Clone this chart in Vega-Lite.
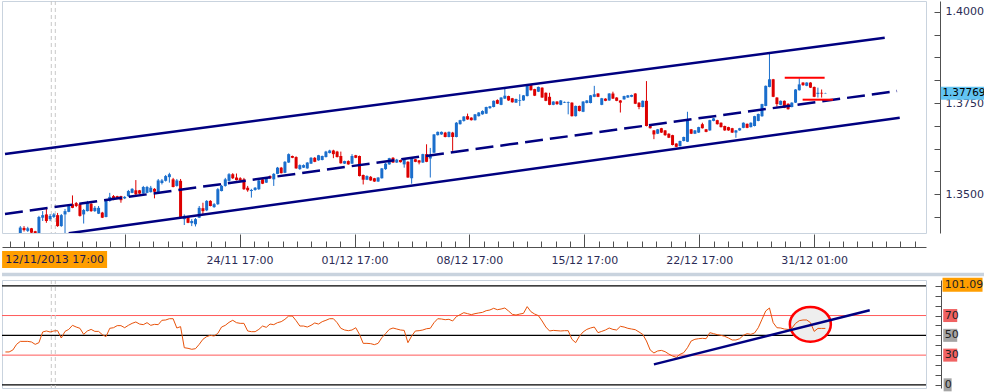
{
"$schema": "https://vega.github.io/schema/vega-lite/v6.json",
"padding": 0,
"background": "white",
"spacing": 47,
"bounds": "flush",
"config": {"view": {"stroke": "#C9D3DE"}, "axis": {"grid": false, "title": null, "labelFont": "DejaVu Sans", "labelFontSize": 11, "labelColor": "#2B2B55", "domainColor": "#505050", "tickColor": "#505050", "labelOverlap": false, "labelFlush": false, "labelBound": false}},
"datasets": {
"candles": [
{"i":1,"o":1.3393,"h":1.3413,"l":1.3391,"c":1.3409},{"i":2,"o":1.3408,"h":1.3413,"l":1.3398,"c":1.3402},{"i":3,"o":1.3400,"h":1.3411,"l":1.3397,"c":1.3407},{"i":4,"o":1.3407,"h":1.3408,"l":1.3394,"c":1.3395},{"i":5,"o":1.3399,"h":1.3400,"l":1.3393,"c":1.3394},
{"i":6,"o":1.3393,"h":1.3441,"l":1.3391,"c":1.3438},{"i":7,"o":1.3436,"h":1.3454,"l":1.3427,"c":1.3443},{"i":8,"o":1.3445,"h":1.3460,"l":1.3422,"c":1.3427},{"i":9,"o":1.3432,"h":1.3446,"l":1.3427,"c":1.3441},{"i":10,"o":1.3438,"h":1.3449,"l":1.3435,"c":1.3445},
{"i":11,"o":1.3443,"h":1.3449,"l":1.3411,"c":1.3413},{"i":12,"o":1.3413,"h":1.3446,"l":1.3411,"c":1.3443},{"i":13,"o":1.3445,"h":1.3460,"l":1.3392,"c":1.3454},{"i":14,"o":1.3452,"h":1.3471,"l":1.3451,"c":1.3468},{"i":15,"o":1.3473,"h":1.3497,"l":1.3462,"c":1.3463},
{"i":16,"o":1.3476,"h":1.3479,"l":1.3465,"c":1.3468},{"i":17,"o":1.3473,"h":1.3476,"l":1.3439,"c":1.3441},{"i":18,"o":1.3445,"h":1.3460,"l":1.3420,"c":1.3457},{"i":19,"o":1.3454,"h":1.3482,"l":1.3453,"c":1.3477},{"i":20,"o":1.3474,"h":1.3476,"l":1.3452,"c":1.3454},
{"i":21,"o":1.3454,"h":1.3468,"l":1.3452,"c":1.3463},{"i":22,"o":1.3447,"h":1.3468,"l":1.3446,"c":1.3463},{"i":23,"o":1.3450,"h":1.3452,"l":1.3435,"c":1.3436},{"i":24,"o":1.3438,"h":1.3484,"l":1.3437,"c":1.3482},{"i":25,"o":1.3482,"h":1.3504,"l":1.3480,"c":1.3493},
{"i":26,"o":1.3495,"h":1.3498,"l":1.3484,"c":1.3486},{"i":27,"o":1.3495,"h":1.3496,"l":1.3487,"c":1.3489},{"i":28,"o":1.3495,"h":1.3496,"l":1.3477,"c":1.3484},{"i":29,"o":1.3489,"h":1.3495,"l":1.3487,"c":1.3493},{"i":30,"o":1.3495,"h":1.3512,"l":1.3493,"c":1.3509},
{"i":31,"o":1.3504,"h":1.3517,"l":1.3503,"c":1.3515},{"i":32,"o":1.3511,"h":1.3539,"l":1.3498,"c":1.3500},{"i":33,"o":1.3511,"h":1.3512,"l":1.3501,"c":1.3502},{"i":34,"o":1.3502,"h":1.3523,"l":1.3501,"c":1.3520},{"i":35,"o":1.3504,"h":1.3523,"l":1.3503,"c":1.3520},
{"i":36,"o":1.3506,"h":1.3523,"l":1.3505,"c":1.3518},{"i":37,"o":1.3515,"h":1.3517,"l":1.3489,"c":1.3507},{"i":38,"o":1.3504,"h":1.3542,"l":1.3503,"c":1.3538},{"i":39,"o":1.3531,"h":1.3542,"l":1.3527,"c":1.3538},{"i":40,"o":1.3537,"h":1.3553,"l":1.3535,"c":1.3550},
{"i":41,"o":1.3547,"h":1.3559,"l":1.3532,"c":1.3555},{"i":42,"o":1.3541,"h":1.3545,"l":1.3519,"c":1.3520},{"i":43,"o":1.3523,"h":1.3542,"l":1.3521,"c":1.3538},{"i":44,"o":1.3537,"h":1.3542,"l":1.3435,"c":1.3436},{"i":45,"o":1.3432,"h":1.3445,"l":1.3416,"c":1.3441},
{"i":46,"o":1.3438,"h":1.3441,"l":1.3421,"c":1.3422},{"i":47,"o":1.3421,"h":1.3432,"l":1.3413,"c":1.3427},{"i":48,"o":1.3418,"h":1.3435,"l":1.3412,"c":1.3432},{"i":49,"o":1.3436,"h":1.3468,"l":1.3435,"c":1.3463},{"i":50,"o":1.3462,"h":1.3477,"l":1.3445,"c":1.3454},
{"i":51,"o":1.3456,"h":1.3484,"l":1.3454,"c":1.3482},{"i":52,"o":1.3482,"h":1.3484,"l":1.3467,"c":1.3468},{"i":53,"o":1.3465,"h":1.3476,"l":1.3463,"c":1.3473},{"i":54,"o":1.3473,"h":1.3517,"l":1.3471,"c":1.3514},{"i":55,"o":1.3509,"h":1.3526,"l":1.3508,"c":1.3523},
{"i":56,"o":1.3523,"h":1.3545,"l":1.3521,"c":1.3541},{"i":57,"o":1.3537,"h":1.3558,"l":1.3535,"c":1.3555},{"i":58,"o":1.3555,"h":1.3558,"l":1.3542,"c":1.3544},{"i":59,"o":1.3546,"h":1.3557,"l":1.3538,"c":1.3539},{"i":60,"o":1.3544,"h":1.3547,"l":1.3537,"c":1.3538},
{"i":61,"o":1.3541,"h":1.3545,"l":1.3512,"c":1.3514},{"i":62,"o":1.3518,"h":1.3523,"l":1.3507,"c":1.3511},{"i":63,"o":1.3509,"h":1.3515,"l":1.3491,"c":1.3512},{"i":64,"o":1.3512,"h":1.3520,"l":1.3510,"c":1.3518},{"i":65,"o":1.3514,"h":1.3541,"l":1.3512,"c":1.3538},
{"i":66,"o":1.3541,"h":1.3542,"l":1.3528,"c":1.3529},{"i":67,"o":1.3532,"h":1.3547,"l":1.3531,"c":1.3546},{"i":68,"o":1.3550,"h":1.3552,"l":1.3542,"c":1.3544},{"i":69,"o":1.3541,"h":1.3558,"l":1.3523,"c":1.3556},{"i":70,"o":1.3556,"h":1.3575,"l":1.3555,"c":1.3573},
{"i":71,"o":1.3573,"h":1.3575,"l":1.3557,"c":1.3558},{"i":72,"o":1.3559,"h":1.3591,"l":1.3558,"c":1.3589},{"i":73,"o":1.3587,"h":1.3612,"l":1.3586,"c":1.3610},{"i":74,"o":1.3605,"h":1.3606,"l":1.3599,"c":1.3600},{"i":75,"o":1.3602,"h":1.3604,"l":1.3570,"c":1.3571},
{"i":76,"o":1.3569,"h":1.3582,"l":1.3567,"c":1.3580},{"i":77,"o":1.3573,"h":1.3582,"l":1.3572,"c":1.3580},{"i":78,"o":1.3571,"h":1.3588,"l":1.3570,"c":1.3587},{"i":79,"o":1.3584,"h":1.3602,"l":1.3583,"c":1.3600},{"i":80,"o":1.3600,"h":1.3602,"l":1.3588,"c":1.3589},
{"i":81,"o":1.3593,"h":1.3608,"l":1.3592,"c":1.3607},{"i":82,"o":1.3594,"h":1.3606,"l":1.3593,"c":1.3605},{"i":83,"o":1.3602,"h":1.3619,"l":1.3601,"c":1.3617},{"i":84,"o":1.3613,"h":1.3622,"l":1.3612,"c":1.3620},{"i":85,"o":1.3620,"h":1.3622,"l":1.3599,"c":1.3610},
{"i":86,"o":1.3617,"h":1.3619,"l":1.3601,"c":1.3602},{"i":87,"o":1.3605,"h":1.3617,"l":1.3584,"c":1.3585},{"i":88,"o":1.3584,"h":1.3592,"l":1.3583,"c":1.3591},{"i":89,"o":1.3591,"h":1.3593,"l":1.3581,"c":1.3582},{"i":90,"o":1.3584,"h":1.3610,"l":1.3583,"c":1.3605},
{"i":91,"o":1.3607,"h":1.3608,"l":1.3599,"c":1.3600},{"i":92,"o":1.3605,"h":1.3606,"l":1.3549,"c":1.3550},{"i":93,"o":1.3553,"h":1.3554,"l":1.3527,"c":1.3540},{"i":94,"o":1.3540,"h":1.3552,"l":1.3539,"c":1.3550},{"i":95,"o":1.3548,"h":1.3550,"l":1.3537,"c":1.3538},
{"i":96,"o":1.3544,"h":1.3545,"l":1.3534,"c":1.3535},{"i":97,"o":1.3535,"h":1.3547,"l":1.3534,"c":1.3546},{"i":98,"o":1.3544,"h":1.3572,"l":1.3543,"c":1.3571},{"i":99,"o":1.3569,"h":1.3586,"l":1.3567,"c":1.3584},{"i":100,"o":1.3582,"h":1.3600,"l":1.3581,"c":1.3599},
{"i":101,"o":1.3600,"h":1.3602,"l":1.3586,"c":1.3587},{"i":102,"o":1.3587,"h":1.3597,"l":1.3586,"c":1.3595},{"i":103,"o":1.3594,"h":1.3595,"l":1.3587,"c":1.3588},{"i":104,"o":1.3582,"h":1.3597,"l":1.3573,"c":1.3596},{"i":105,"o":1.3589,"h":1.3591,"l":1.3545,"c":1.3546},
{"i":106,"o":1.3544,"h":1.3600,"l":1.3529,"c":1.3599},{"i":107,"o":1.3596,"h":1.3597,"l":1.3588,"c":1.3589},{"i":108,"o":1.3593,"h":1.3594,"l":1.3582,"c":1.3587},{"i":109,"o":1.3587,"h":1.3611,"l":1.3586,"c":1.3610},{"i":110,"o":1.3610,"h":1.3637,"l":1.3588,"c":1.3589},
{"i":111,"o":1.3598,"h":1.3627,"l":1.3546,"c":1.3607},{"i":112,"o":1.3614,"h":1.3665,"l":1.3613,"c":1.3664},{"i":113,"o":1.3662,"h":1.3672,"l":1.3661,"c":1.3671},{"i":114,"o":1.3664,"h":1.3672,"l":1.3663,"c":1.3671},{"i":115,"o":1.3669,"h":1.3671,"l":1.3656,"c":1.3657},
{"i":116,"o":1.3657,"h":1.3672,"l":1.3656,"c":1.3671},{"i":117,"o":1.3669,"h":1.3671,"l":1.3619,"c":1.3657},{"i":118,"o":1.3657,"h":1.3698,"l":1.3656,"c":1.3696},{"i":119,"o":1.3692,"h":1.3704,"l":1.3691,"c":1.3703},{"i":120,"o":1.3701,"h":1.3714,"l":1.3699,"c":1.3713},
{"i":121,"o":1.3714,"h":1.3721,"l":1.3704,"c":1.3705},{"i":122,"o":1.3710,"h":1.3711,"l":1.3702,"c":1.3703},{"i":123,"o":1.3703,"h":1.3720,"l":1.3702,"c":1.3719},{"i":124,"o":1.3714,"h":1.3725,"l":1.3713,"c":1.3724},{"i":125,"o":1.3719,"h":1.3730,"l":1.3718,"c":1.3728},
{"i":126,"o":1.3721,"h":1.3740,"l":1.3720,"c":1.3739},{"i":127,"o":1.3736,"h":1.3742,"l":1.3734,"c":1.3741},{"i":128,"o":1.3739,"h":1.3757,"l":1.3738,"c":1.3756},{"i":129,"o":1.3758,"h":1.3760,"l":1.3747,"c":1.3748},{"i":130,"o":1.3745,"h":1.3766,"l":1.3744,"c":1.3765},
{"i":131,"o":1.3762,"h":1.3790,"l":1.3761,"c":1.3770},{"i":132,"o":1.3769,"h":1.3770,"l":1.3756,"c":1.3757},{"i":133,"o":1.3763,"h":1.3764,"l":1.3751,"c":1.3752},{"i":134,"o":1.3751,"h":1.3762,"l":1.3750,"c":1.3761},{"i":135,"o":1.3756,"h":1.3774,"l":1.3742,"c":1.3758},
{"i":136,"o":1.3757,"h":1.3772,"l":1.3756,"c":1.3771},{"i":137,"o":1.3769,"h":1.3801,"l":1.3768,"c":1.3799},{"i":138,"o":1.3801,"h":1.3802,"l":1.3784,"c":1.3785},{"i":139,"o":1.3788,"h":1.3789,"l":1.3769,"c":1.3770},{"i":140,"o":1.3781,"h":1.3795,"l":1.3780,"c":1.3794},
{"i":141,"o":1.3792,"h":1.3793,"l":1.3764,"c":1.3765},{"i":142,"o":1.3778,"h":1.3779,"l":1.3755,"c":1.3756},{"i":143,"o":1.3767,"h":1.3778,"l":1.3744,"c":1.3745},{"i":144,"o":1.3745,"h":1.3755,"l":1.3744,"c":1.3754},{"i":145,"o":1.3754,"h":1.3755,"l":1.3745,"c":1.3747},
{"i":146,"o":1.3745,"h":1.3758,"l":1.3744,"c":1.3757},{"i":147,"o":1.3751,"h":1.3754,"l":1.3750,"c":1.3753},{"i":148,"o":1.3750,"h":1.3754,"l":1.3719,"c":1.3752},{"i":149,"o":1.3751,"h":1.3752,"l":1.3713,"c":1.3714},{"i":150,"o":1.3714,"h":1.3743,"l":1.3713,"c":1.3742},
{"i":151,"o":1.3742,"h":1.3743,"l":1.3727,"c":1.3728},{"i":152,"o":1.3726,"h":1.3755,"l":1.3725,"c":1.3754},{"i":153,"o":1.3750,"h":1.3758,"l":1.3749,"c":1.3757},{"i":154,"o":1.3750,"h":1.3772,"l":1.3749,"c":1.3771},{"i":155,"o":1.3767,"h":1.3797,"l":1.3766,"c":1.3774},
{"i":156,"o":1.3776,"h":1.3777,"l":1.3766,"c":1.3767},{"i":157,"o":1.3745,"h":1.3764,"l":1.3744,"c":1.3763},{"i":158,"o":1.3762,"h":1.3763,"l":1.3755,"c":1.3756},{"i":159,"o":1.3757,"h":1.3777,"l":1.3756,"c":1.3776},{"i":160,"o":1.3776,"h":1.3781,"l":1.3761,"c":1.3762},
{"i":161,"o":1.3765,"h":1.3766,"l":1.3755,"c":1.3756},{"i":162,"o":1.3757,"h":1.3758,"l":1.3724,"c":1.3751},{"i":163,"o":1.3760,"h":1.3770,"l":1.3759,"c":1.3769},{"i":164,"o":1.3765,"h":1.3772,"l":1.3764,"c":1.3771},{"i":165,"o":1.3767,"h":1.3773,"l":1.3766,"c":1.3772},
{"i":166,"o":1.3776,"h":1.3777,"l":1.3747,"c":1.3748},{"i":167,"o":1.3751,"h":1.3752,"l":1.3733,"c":1.3739},{"i":168,"o":1.3739,"h":1.3757,"l":1.3738,"c":1.3756},{"i":169,"o":1.3756,"h":1.3810,"l":1.3686,"c":1.3687},{"i":170,"o":1.3687,"h":1.3688,"l":1.3680,"c":1.3681},
{"i":171,"o":1.3675,"h":1.3676,"l":1.3651,"c":1.3664},{"i":172,"o":1.3666,"h":1.3679,"l":1.3665,"c":1.3678},{"i":173,"o":1.3681,"h":1.3682,"l":1.3668,"c":1.3669},{"i":174,"o":1.3675,"h":1.3676,"l":1.3660,"c":1.3662},{"i":175,"o":1.3666,"h":1.3667,"l":1.3654,"c":1.3655},
{"i":176,"o":1.3662,"h":1.3663,"l":1.3634,"c":1.3635},{"i":177,"o":1.3639,"h":1.3640,"l":1.3629,"c":1.3630},{"i":178,"o":1.3632,"h":1.3647,"l":1.3631,"c":1.3646},{"i":179,"o":1.3646,"h":1.3658,"l":1.3645,"c":1.3657},{"i":180,"o":1.3644,"h":1.3726,"l":1.3643,"c":1.3703},
{"i":181,"o":1.3678,"h":1.3679,"l":1.3665,"c":1.3666},{"i":182,"o":1.3666,"h":1.3676,"l":1.3665,"c":1.3675},{"i":183,"o":1.3669,"h":1.3685,"l":1.3668,"c":1.3684},{"i":184,"o":1.3692,"h":1.3696,"l":1.3680,"c":1.3681},{"i":185,"o":1.3678,"h":1.3679,"l":1.3670,"c":1.3671},
{"i":186,"o":1.3675,"h":1.3704,"l":1.3674,"c":1.3703},{"i":187,"o":1.3701,"h":1.3709,"l":1.3700,"c":1.3708},{"i":188,"o":1.3703,"h":1.3704,"l":1.3691,"c":1.3692},{"i":189,"o":1.3696,"h":1.3697,"l":1.3683,"c":1.3684},{"i":190,"o":1.3687,"h":1.3688,"l":1.3674,"c":1.3675},
{"i":191,"o":1.3684,"h":1.3685,"l":1.3674,"c":1.3675},{"i":192,"o":1.3681,"h":1.3682,"l":1.3668,"c":1.3669},{"i":193,"o":1.3669,"h":1.3676,"l":1.3655,"c":1.3675},{"i":194,"o":1.3675,"h":1.3682,"l":1.3674,"c":1.3681},{"i":195,"o":1.3682,"h":1.3697,"l":1.3681,"c":1.3696},
{"i":196,"o":1.3693,"h":1.3694,"l":1.3681,"c":1.3682},{"i":197,"o":1.3684,"h":1.3697,"l":1.3683,"c":1.3696},{"i":198,"o":1.3687,"h":1.3715,"l":1.3686,"c":1.3714},{"i":199,"o":1.3701,"h":1.3721,"l":1.3700,"c":1.3720},{"i":200,"o":1.3714,"h":1.3748,"l":1.3712,"c":1.3747},
{"i":201,"o":1.3742,"h":1.3798,"l":1.3741,"c":1.3797},{"i":202,"o":1.3794,"h":1.3888,"l":1.3793,"c":1.3815},{"i":203,"o":1.3815,"h":1.3816,"l":1.3766,"c":1.3767},{"i":204,"o":1.3765,"h":1.3766,"l":1.3740,"c":1.3747},{"i":205,"o":1.3745,"h":1.3757,"l":1.3744,"c":1.3756},
{"i":206,"o":1.3756,"h":1.3757,"l":1.3736,"c":1.3737},{"i":207,"o":1.3748,"h":1.3749,"l":1.3732,"c":1.3733},{"i":208,"o":1.3739,"h":1.3752,"l":1.3738,"c":1.3751},{"i":209,"o":1.3751,"h":1.3788,"l":1.3750,"c":1.3787},{"i":210,"o":1.3785,"h":1.3818,"l":1.3784,"c":1.3801},
{"i":211,"o":1.3806,"h":1.3807,"l":1.3797,"c":1.3799},{"i":212,"o":1.3797,"h":1.3807,"l":1.3796,"c":1.3806},{"i":213,"o":1.3806,"h":1.3807,"l":1.3791,"c":1.3792},{"i":214,"o":1.3794,"h":1.3795,"l":1.3766,"c":1.3767},{"i":215,"o":1.3775,"h":1.3792,"l":1.3765,"c":1.3778},
{"i":216,"o":1.3778,"h":1.3787,"l":1.3765,"c":1.3776},{"i":217,"o":1.3776,"h":1.3778,"l":1.3776,"c":1.37769}
],
"rsi": [
{"i":-3,"r":33.2},{"i":-2,"r":33.2},{"i":-1,"r":35.2},{"i":0,"r":40.9},{"i":1,"r":43.9},{"i":2,"r":43.9},{"i":3,"r":43.9},{"i":4,"r":43.3},{"i":5,"r":40.9},{"i":6,"r":42.6},
{"i":7,"r":53.4},{"i":8,"r":54.4},{"i":9,"r":53.4},{"i":10,"r":54.4},{"i":11,"r":54.7},{"i":12,"r":47.3},{"i":13,"r":54},{"i":14,"r":56},{"i":15,"r":60.1},{"i":16,"r":58.4},
{"i":17,"r":57.1},{"i":18,"r":51},{"i":19,"r":54.4},{"i":20,"r":56},{"i":21,"r":54},{"i":22,"r":54},{"i":23,"r":50.7},{"i":24,"r":48.7},{"i":25,"r":57.1},{"i":26,"r":57.7},
{"i":27,"r":59.8},{"i":28,"r":59.8},{"i":29,"r":57.7},{"i":30,"r":60.1},{"i":31,"r":62.1},{"i":32,"r":63.5},{"i":33,"r":61.4},{"i":34,"r":60.8},{"i":35,"r":62.8},{"i":36,"r":60.1},
{"i":37,"r":61.1},{"i":38,"r":60.8},{"i":39,"r":65.2},{"i":40,"r":65.5},{"i":41,"r":66.8},{"i":42,"r":66.8},{"i":43,"r":57.4},{"i":44,"r":58.8},{"i":45,"r":37.5},{"i":46,"r":36.9},
{"i":47,"r":35.9},{"i":48,"r":36.5},{"i":49,"r":40.9},{"i":50,"r":46},{"i":51,"r":48.7},{"i":52,"r":50},{"i":53,"r":49.3},{"i":54,"r":52},{"i":55,"r":58.4},{"i":56,"r":60.1},
{"i":57,"r":63.1},{"i":58,"r":65.2},{"i":59,"r":62.8},{"i":60,"r":62.1},{"i":61,"r":62.1},{"i":62,"r":54.4},{"i":63,"r":53.7},{"i":64,"r":53.7},{"i":65,"r":56},{"i":66,"r":59.4},
{"i":67,"r":58.1},{"i":68,"r":61.4},{"i":69,"r":60.8},{"i":70,"r":62.8},{"i":71,"r":63.8},{"i":72,"r":66.2},{"i":73,"r":69.5},{"i":74,"r":69.5},{"i":75,"r":64.8},{"i":76,"r":59.4},
{"i":77,"r":59.4},{"i":78,"r":58.4},{"i":79,"r":60.1},{"i":80,"r":62.5},{"i":81,"r":61.4},{"i":82,"r":63.8},{"i":83,"r":65.2},{"i":84,"r":66.8},{"i":85,"r":66.8},{"i":86,"r":62.8},
{"i":87,"r":57.1},{"i":88,"r":55.4},{"i":89,"r":54.7},{"i":90,"r":55.4},{"i":91,"r":57.7},{"i":92,"r":51},{"i":93,"r":41.9},{"i":94,"r":41.9},{"i":95,"r":41.6},{"i":96,"r":40.6},
{"i":97,"r":41.9},{"i":98,"r":47.6},{"i":99,"r":51.7},{"i":100,"r":56},{"i":101,"r":57.4},{"i":102,"r":56.4},{"i":103,"r":55.4},{"i":104,"r":55},{"i":105,"r":42.6},{"i":106,"r":49.3},
{"i":107,"r":54.4},{"i":108,"r":54.7},{"i":109,"r":55.4},{"i":110,"r":56.7},{"i":111,"r":57.1},{"i":112,"r":62.8},{"i":113,"r":66.8},{"i":114,"r":66.5},{"i":115,"r":65.8},{"i":116,"r":66.2},
{"i":117,"r":64.5},{"i":118,"r":68.9},{"i":119,"r":70.9},{"i":120,"r":72.9},{"i":121,"r":71.9},{"i":122,"r":70.9},{"i":123,"r":71.9},{"i":124,"r":72.6},{"i":125,"r":73.2},{"i":126,"r":74.9},
{"i":127,"r":75.6},{"i":128,"r":77.3},{"i":129,"r":75.9},{"i":130,"r":76.6},{"i":131,"r":77.6},{"i":132,"r":74.6},{"i":133,"r":71.2},{"i":134,"r":70.5},{"i":135,"r":71.5},{"i":136,"r":72.2},
{"i":137,"r":79},{"i":138,"r":73.9},{"i":139,"r":71.5},{"i":140,"r":69.9},{"i":141,"r":64.5},{"i":142,"r":58.4},{"i":143,"r":54.4},{"i":144,"r":55},{"i":145,"r":54.7},{"i":146,"r":54.4},
{"i":147,"r":54.7},{"i":148,"r":54.7},{"i":149,"r":46},{"i":150,"r":42.6},{"i":151,"r":49},{"i":152,"r":53.4},{"i":153,"r":56},{"i":154,"r":57.4},{"i":155,"r":58.4},{"i":156,"r":52.7},
{"i":157,"r":54},{"i":158,"r":55.4},{"i":159,"r":57.4},{"i":160,"r":56},{"i":161,"r":55.4},{"i":162,"r":59.1},{"i":163,"r":58.4},{"i":164,"r":57.1},{"i":165,"r":56.4},{"i":166,"r":55.7},
{"i":167,"r":53.4},{"i":168,"r":51},{"i":169,"r":44.3},{"i":170,"r":35.2},{"i":171,"r":32.2},{"i":172,"r":34.2},{"i":173,"r":34.8},{"i":174,"r":33.5},{"i":175,"r":31.1},{"i":176,"r":29.1},
{"i":177,"r":27.8},{"i":178,"r":30.8},{"i":179,"r":32.5},{"i":180,"r":37.5},{"i":181,"r":44.3},{"i":182,"r":46},{"i":183,"r":46.6},{"i":184,"r":47},{"i":185,"r":46.6},{"i":186,"r":52.7},
{"i":187,"r":51.7},{"i":188,"r":50.7},{"i":189,"r":50},{"i":190,"r":49},{"i":191,"r":47.3},{"i":192,"r":45.3},{"i":193,"r":45.3},{"i":194,"r":46.6},{"i":195,"r":50},{"i":196,"r":51.7},
{"i":197,"r":51},{"i":198,"r":52.4},{"i":199,"r":57.7},{"i":200,"r":66.2},{"i":201,"r":74.6},{"i":202,"r":77.6},{"i":203,"r":62.8},{"i":204,"r":57.7},{"i":205,"r":57.4},{"i":206,"r":56.4},
{"i":207,"r":56},{"i":208,"r":57.1},{"i":209,"r":62.1},{"i":210,"r":64.8},{"i":211,"r":65.5},{"i":212,"r":65.5},{"i":213,"r":62.8},{"i":214,"r":54},{"i":215,"r":57},{"i":216,"r":57},{"i":217,"r":57}
],
"cross": [{"i": 9.32}, {"i": 10.39}]
},
"vconcat": [
{
"width": 924, "height": 232,
"resolve": {"axis": {"x": "independent", "y": "independent"}},
"layer": [
{"data": {"name": "cross"}, "mark": {"type": "rule", "strokeDash": [4, 3], "color": "#C8C8C8", "strokeWidth": 1},
 "encoding": {"x": {"field": "i", "type": "quantitative", "scale": {"domain": [-3.91, 244.0], "nice": false, "zero": false, "padding": 0},
   "axis": {"orient": "bottom", "offset": 14, "values": [-1.83,2.02,5.88,9.73,13.59,17.44,21.29,25.15,29,32.86,36.71,40.56,44.42,48.27,52.13,55.98,59.83,63.69,67.54,71.4,75.25,79.1,82.96,86.81,90.67,94.52,98.37,102.23,106.08,109.94,113.79,117.64,121.5,125.35,129.21,133.06,136.91,140.77,144.62,148.48,152.33,156.18,160.04,163.89,167.75,171.6,175.45,179.31,183.16,187.02,190.87,194.72,198.58,202.43,206.29,210.14,213.99,217.85,221.7,225.56,229.41,233.26,237.12,240.97], "tickSize": -6, "labels": false, "domain": true}}}},
{"data": {"name": "candles"}, "mark": {"type": "rule", "clip": true, "strokeWidth": 1},
 "encoding": {"x": {"field": "i", "type": "quantitative", "scale": {"domain": [-3.91, 244.0], "nice": false, "zero": false, "padding": 0},
   "axis": {"orient": "bottom", "offset": 14, "values": [29,59.83,90.67,121.5,152.33,183.16,213.99], "tickSize": -13, "labelPadding": 26, "labelBaseline": "middle", "domain": false,
     "labelExpr": "datum.value == 59.83 ? '24/11 17:00' : datum.value == 90.67 ? '01/12 17:00' : datum.value == 121.5 ? '08/12 17:00' : datum.value == 152.33 ? '15/12 17:00' : datum.value == 183.16 ? '22/12 17:00' : datum.value == 213.99 ? '31/12 01:00' : ''"}},
  "y": {"field": "l", "type": "quantitative", "scale": {"domain": [1.33941, 1.40293], "nice": false, "zero": false},
   "axis": {"orient": "right", "offset": 14, "values": [1.34375,1.35,1.35625,1.3625,1.36875,1.375,1.38125,1.3875,1.39375,1.4], "tickSize": -6, "labelPadding": 11, "labelAlign": "left", "labelBaseline": "middle",
     "labelExpr": "abs(datum.value-1.35)<1e-6 || abs(datum.value-1.375)<1e-6 || abs(datum.value-1.4)<1e-6 ? format(datum.value, '.4f') : ''"}},
  "y2": {"field": "h"},
  "color": {"condition": {"test": "datum.c >= datum.o", "value": "#1A6ECC"}, "value": "#DD0000"}}},
{"data": {"name": "candles"}, "mark": {"type": "bar", "width": 3, "clip": true, "minBandSize": 1},
 "encoding": {"x": {"field": "i", "type": "quantitative", "scale": {"domain": [-3.91, 244.0], "nice": false, "zero": false, "padding": 0}, "axis": null},
  "y": {"field": "o", "type": "quantitative", "scale": {"domain": [1.33941, 1.40293], "nice": false, "zero": false}, "axis": null},
  "y2": {"field": "c"},
  "color": {"condition": {"test": "datum.c >= datum.o", "value": "#1A6ECC"}, "value": "#DD0000"}}},
{"data": {"values": [{"line": "upper", "i": -3.105, "p": 1.36107}, {"line": "upper", "i": 232.93, "p": 1.39288}, {"line": "lower", "i": 13.99, "p": 1.33933}, {"line": "lower", "i": 236.95, "p": 1.37098}]},
 "mark": {"type": "line", "color": "#000080", "strokeWidth": 2.5, "strokeJoin": "round", "clip": true},
 "encoding": {"x": {"field": "i", "type": "quantitative", "scale": {"domain": [-3.91, 244.0], "nice": false, "zero": false, "padding": 0}, "axis": null},
  "y": {"field": "p", "type": "quantitative", "scale": {"domain": [1.33941, 1.40293], "nice": false, "zero": false}, "axis": null},
  "detail": {"field": "line"}}},
{"data": {"values": [{"i": -3.105, "p": 1.34464}, {"i": 236.23, "p": 1.37829}]},
 "mark": {"type": "line", "color": "#000080", "strokeWidth": 2.5, "strokeJoin": "round", "strokeDash": [18, 7], "clip": true},
 "encoding": {"x": {"field": "i", "type": "quantitative", "scale": {"domain": [-3.91, 244.0], "nice": false, "zero": false, "padding": 0}, "axis": null},
  "y": {"field": "p", "type": "quantitative", "scale": {"domain": [1.33941, 1.40293], "nice": false, "zero": false}, "axis": null}}},
{"data": {"values": [{"i0": 206.1, "i1": 216.8, "p": 1.38193}, {"i0": 210.9, "i1": 219.06, "p": 1.37591}]},
 "mark": {"type": "rule", "color": "#FF0000", "strokeWidth": 2},
 "encoding": {"x": {"field": "i0", "type": "quantitative", "scale": {"domain": [-3.91, 244.0], "nice": false, "zero": false, "padding": 0}, "axis": null},
  "x2": {"field": "i1"},
  "y": {"field": "p", "type": "quantitative", "scale": {"domain": [1.33941, 1.40293], "nice": false, "zero": false}, "axis": null}}},
{"data": {"values": [{"price": 1.37769}]},
 "layer": [
  {"mark": {"type": "tick", "orient": "horizontal", "size": 45, "thickness": 13, "color": "#62C4F2", "opacity": 1, "clip": false},
   "encoding": {"x": {"datum": 254.0, "type": "quantitative", "scale": {"domain": [-3.91, 244.0], "nice": false, "zero": false, "padding": 0}, "axis": null},
    "y": {"field": "price", "type": "quantitative", "scale": {"domain": [1.33941, 1.40293], "nice": false, "zero": false}, "axis": null}}},
  {"mark": {"type": "text", "align": "left", "baseline": "middle", "font": "DejaVu Sans", "fontSize": 10.4, "color": "#000000", "clip": false},
   "encoding": {"x": {"datum": 248.4, "type": "quantitative", "scale": {"domain": [-3.91, 244.0], "nice": false, "zero": false, "padding": 0}, "axis": null},
    "y": {"field": "price", "type": "quantitative", "scale": {"domain": [1.33941, 1.40293], "nice": false, "zero": false}, "axis": null},
    "text": {"field": "price", "type": "quantitative", "format": ".5f"}}}
 ]},
{"data": {"values": [{"i": 10.2, "label": "12/11/2013 17:00"}]},
 "layer": [
  {"mark": {"type": "tick", "orient": "horizontal", "size": 105, "thickness": 17, "color": "#FF9E00", "opacity": 1, "clip": false},
   "encoding": {"x": {"field": "i", "type": "quantitative", "scale": {"domain": [-3.91, 244.0], "nice": false, "zero": false, "padding": 0}, "axis": null},
    "y": {"datum": 1.33215, "type": "quantitative", "scale": {"domain": [1.33941, 1.40293], "nice": false, "zero": false}, "axis": null}}},
  {"mark": {"type": "text", "align": "center", "baseline": "middle", "font": "DejaVu Sans", "fontSize": 11, "color": "#1A1A50", "clip": false},
   "encoding": {"x": {"field": "i", "type": "quantitative", "scale": {"domain": [-3.91, 244.0], "nice": false, "zero": false, "padding": 0}, "axis": null},
    "y": {"datum": 1.33215, "type": "quantitative", "scale": {"domain": [1.33941, 1.40293], "nice": false, "zero": false}, "axis": null},
    "text": {"field": "label"}}}
 ]}
]
},
{
"width": 924, "height": 108,
"resolve": {"axis": {"y": "independent"}},
"layer": [
{"data": {"values": [{"band": "separator"}]},
 "mark": {"type": "tick", "orient": "horizontal", "size": 984, "thickness": 3.5, "color": "#C9D3DE", "opacity": 1, "clip": false},
 "encoding": {"x": {"datum": 128.1, "type": "quantitative", "scale": {"domain": [-3.91, 244.0], "nice": false, "zero": false, "padding": 0}, "axis": null},
  "y": {"datum": 111.5, "type": "quantitative", "scale": {"domain": [-3.2, 105.9], "nice": false, "zero": false}, "axis": null}}},
{"data": {"values": [{"v": 100, "k": "b"}, {"v": 50, "k": "b"}, {"v": 0, "k": "b"}, {"v": 70, "k": "r"}, {"v": 30, "k": "r"}]},
 "mark": {"type": "rule"},
 "encoding": {"y": {"field": "v", "type": "quantitative", "scale": {"domain": [-3.2, 105.9], "nice": false, "zero": false},
   "axis": {"orient": "right", "offset": 15, "values": [0,10,20,30,40,50,60,70,80,90,100], "tickSize": -6, "labels": false, "domain": true}},
  "color": {"condition": {"test": "datum.k == 'r'", "value": "#FF5A5A"}, "value": "#000000"},
  "strokeWidth": {"condition": {"test": "datum.k == 'r'", "value": 1}, "value": 1.2}}},
{"data": {"name": "cross"}, "mark": {"type": "rule", "strokeDash": [4, 3], "color": "#C8C8C8", "strokeWidth": 1},
 "encoding": {"x": {"field": "i", "type": "quantitative", "scale": {"domain": [-3.91, 244.0], "nice": false, "zero": false, "padding": 0}, "axis": null}}},
{"data": {"values": [{"i": 212.97, "r": 61.1}]},
 "mark": {"type": "point", "shape": "M -1 0 A 1 0.85 0 1 1 1 0 A 1 0.85 0 1 1 -1 0 Z", "size": 1681, "filled": true, "fill": "#EEEEEE", "stroke": "#FF0000", "strokeWidth": 2.5, "opacity": 1},
 "encoding": {"x": {"field": "i", "type": "quantitative", "scale": {"domain": [-3.91, 244.0], "nice": false, "zero": false, "padding": 0}, "axis": null},
  "y": {"field": "r", "type": "quantitative", "scale": {"domain": [-3.2, 105.9], "nice": false, "zero": false}, "axis": null}}},
{"data": {"name": "rsi"}, "mark": {"type": "line", "color": "#E8520A", "strokeWidth": 1, "strokeJoin": "round", "clip": true},
 "encoding": {"x": {"field": "i", "type": "quantitative", "scale": {"domain": [-3.91, 244.0], "nice": false, "zero": false, "padding": 0}, "axis": null},
  "y": {"field": "r", "type": "quantitative", "scale": {"domain": [-3.2, 105.9], "nice": false, "zero": false}, "axis": null}}},
{"data": {"values": [{"i": 171.0, "r": 20.7}, {"i": 228.9, "r": 75.3}]},
 "mark": {"type": "line", "color": "#000080", "strokeWidth": 2.5},
 "encoding": {"x": {"field": "i", "type": "quantitative", "scale": {"domain": [-3.91, 244.0], "nice": false, "zero": false, "padding": 0}, "axis": null},
  "y": {"field": "r", "type": "quantitative", "scale": {"domain": [-3.2, 105.9], "nice": false, "zero": false}, "axis": null}}},
{"data": {"values": [{"lv": 101.09, "t": "101.09"}, {"lv": 70, "t": "70"}, {"lv": 50, "t": "50"}, {"lv": 30, "t": "30"}, {"lv": 0, "t": "0"}]},
 "resolve": {"axis": {"y": "independent"}},
 "layer": [
  {"transform": [{"filter": "datum.lv > 100"}],
   "mark": {"type": "tick", "orient": "horizontal", "size": 40, "thickness": 14, "color": "#FF9E00", "opacity": 1, "clip": false},
   "encoding": {"x": {"datum": 253.8, "type": "quantitative", "scale": {"domain": [-3.91, 244.0], "nice": false, "zero": false, "padding": 0}, "axis": null},
    "y": {"field": "lv", "type": "quantitative", "scale": {"domain": [-3.2, 105.9], "nice": false, "zero": false}, "axis": null}}},
  {"transform": [{"filter": "datum.lv == 70 || datum.lv == 30 || datum.lv == 50"}],
   "mark": {"type": "tick", "orient": "horizontal", "size": 14, "thickness": 13, "opacity": 1, "clip": false},
   "encoding": {"x": {"datum": 250.5, "type": "quantitative", "scale": {"domain": [-3.91, 244.0], "nice": false, "zero": false, "padding": 0}, "axis": null},
    "y": {"field": "lv", "type": "quantitative", "scale": {"domain": [-3.2, 105.9], "nice": false, "zero": false}, "axis": null},
    "color": {"condition": {"test": "datum.lv == 50", "value": "#A4A4A4"}, "value": "#F06262"}}},
  {"transform": [{"filter": "datum.lv == 0"}],
   "mark": {"type": "tick", "orient": "horizontal", "size": 8, "thickness": 13, "color": "#A4A4A4", "opacity": 1, "clip": false},
   "encoding": {"x": {"datum": 249.8, "type": "quantitative", "scale": {"domain": [-3.91, 244.0], "nice": false, "zero": false, "padding": 0}, "axis": null},
    "y": {"field": "lv", "type": "quantitative", "scale": {"domain": [-3.2, 105.9], "nice": false, "zero": false}, "axis": null}}},
  {"mark": {"type": "text", "align": "left", "baseline": "middle", "font": "DejaVu Sans", "fontSize": 11, "color": "#222222", "clip": false},
   "encoding": {"x": {"datum": 249.0, "type": "quantitative", "scale": {"domain": [-3.91, 244.0], "nice": false, "zero": false, "padding": 0}, "axis": null},
    "y": {"field": "lv", "type": "quantitative", "scale": {"domain": [-3.2, 105.9], "nice": false, "zero": false}, "axis": null},
    "text": {"field": "t"}}}
 ]}
]
}
]
}
